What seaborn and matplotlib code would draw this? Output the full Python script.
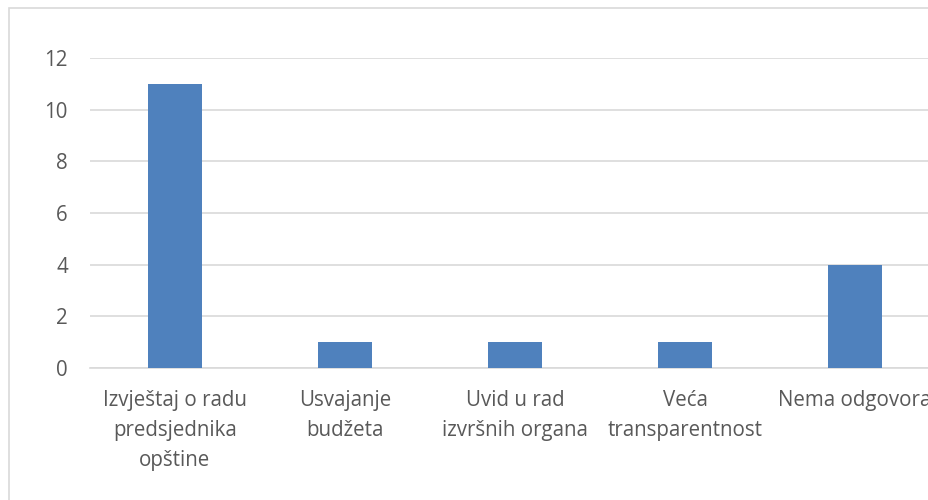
import matplotlib
matplotlib.use("Agg")
import matplotlib.pyplot as plt
import seaborn as sns
import pandas as pd
from matplotlib.patches import Rectangle

# data
categories = [
    "Izvještaj o radu\npredsjednika\nopštine",
    "Usvajanje\nbudžeta",
    "Uvid u rad\nizvršnih organa",
    "Veća\ntransparentnost",
    "Nema odgovora",
]
values = [11, 1, 1, 1, 4]

df = pd.DataFrame({"Kategorija": categories, "Broj": values})

sns.set_theme(style="white")
plt.rcParams["font.family"] = ["Open Sans", "DejaVu Sans"]

fig = plt.figure(figsize=(9.29, 5), dpi=100)
ax = fig.add_axes([90 / 929, 1 - 368 / 500, 850 / 929, 310 / 500])

sns.barplot(data=df, x="Kategorija", y="Broj", color="#4F81BD", width=0.32,
            saturation=1, ax=ax, zorder=3, linewidth=0)

ax.set_ylim(0, 12)
ax.set_yticks(range(0, 13, 2))
ax.yaxis.grid(True, color="#D9D9D9", linewidth=1.2, zorder=0)
ax.set_xlabel("")
ax.set_ylabel("")
for s in ["top", "right", "left"]:
    ax.spines[s].set_visible(False)
ax.spines["bottom"].set_color("#D9D9D9")
ax.spines["bottom"].set_linewidth(1.2)
ax.tick_params(axis="both", length=0, labelsize=14.8, colors="#595959")
ax.tick_params(axis="x", pad=16)
ax.tick_params(axis="y", pad=16)
for lbl in ax.get_xticklabels():
    lbl.set_linespacing(1.55)
    lbl.set_verticalalignment("top")

# chart area border (extends beyond the crop)
fig.patches.append(Rectangle((9 / 929, -0.1), 1.2, 1 - 8 / 500 + 0.1,
                             transform=fig.transFigure, fill=False,
                             edgecolor="#D9D9D9", linewidth=1.2))

fig.savefig("out.png", dpi=100)
